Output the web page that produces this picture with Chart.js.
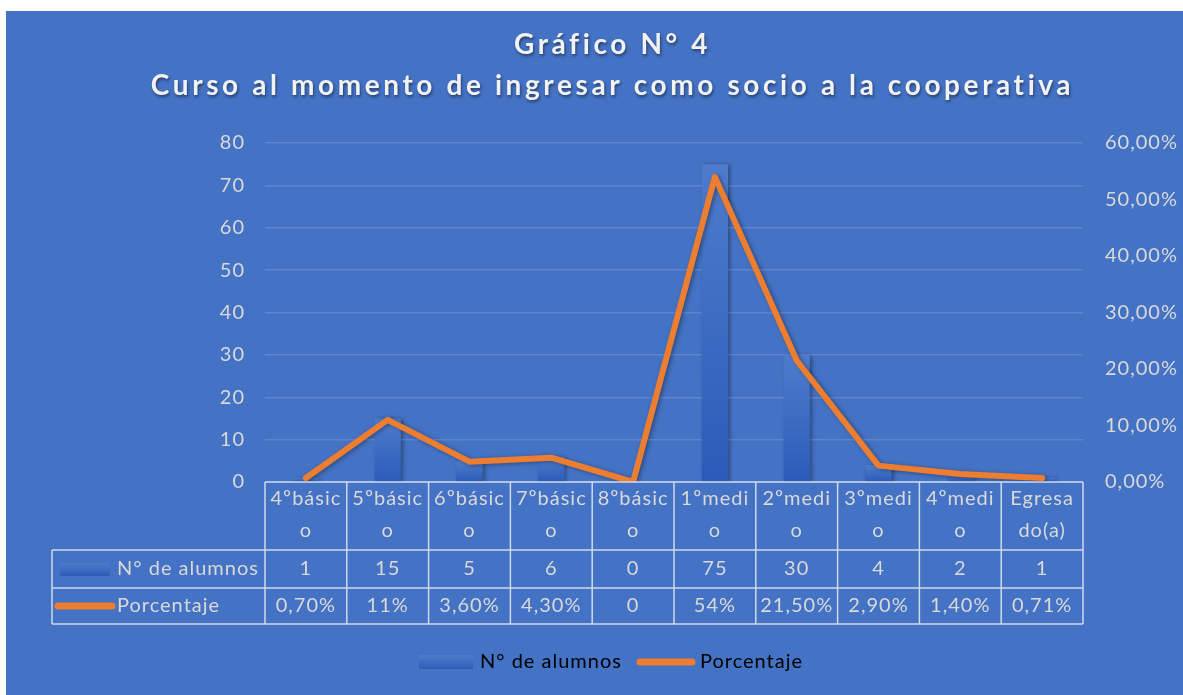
<!DOCTYPE html>
<html>
<head>
<meta charset="utf-8">
<script src="https://cdn.jsdelivr.net/npm/chart.js@4"></script>
<style>
  html, body { margin: 0; padding: 0; background: #fff; }
  #marco { position: absolute; left: 6px; top: 11px; width: 1177px; height: 684px; background: #4472C4; }
</style>
</head>
<body>
<div id="marco"><canvas id="chart"></canvas></div>
<script>
// datos
const categorias = ["4ºbásico", "5ºbásico", "6ºbásico", "7ºbásico", "8ºbásico", "1ºmedio", "2ºmedio", "3ºmedio", "4ºmedio", "Egresado(a)"];
const etiquetas = [["4ºbásic", "o"], ["5ºbásic", "o"], ["6ºbásic", "o"], ["7ºbásic", "o"], ["8ºbásic", "o"], ["1ºmedi", "o"], ["2ºmedi", "o"], ["3ºmedi", "o"], ["4ºmedi", "o"], ["Egresa", "do(a)"]];
const alumnos = [1, 15, 5, 6, 0, 75, 30, 4, 2, 1];
const porcentaje = [0.70, 11, 3.60, 4.30, 0, 54, 21.50, 2.90, 1.40, 0.71];
const porcentajeTexto = ["0,70%", "11%", "3,60%", "4,30%", "0", "54%", "21,50%", "2,90%", "1,40%", "0,71%"];

const TEXTO = "#D9D9D9";
const NARANJA = "#ED7D31";

Chart.defaults.font.family = "Lato";

// swatches de la leyenda
function swatchBarra(w, h) {
    const c = document.createElement("canvas");
    c.width = w; c.height = h;
    const g = c.getContext("2d");
    const grad = g.createLinearGradient(0, 0, 0, h);
    grad.addColorStop(0, "#4E7CCB");
    grad.addColorStop(1, "#2D5DBA");
    g.fillStyle = grad;
    g.fillRect(0, 0, w, h);
    return c;
}
function swatchLinea(w, h) {
    const c = document.createElement("canvas");
    c.width = w; c.height = h;
    const g = c.getContext("2d");
    g.strokeStyle = NARANJA;
    g.lineWidth = 7;
    g.lineCap = "round";
    g.beginPath();
    g.moveTo(4, h / 2);
    g.lineTo(w - 4, h / 2);
    g.stroke();
    return c;
}

// espaciado de letras en todo el texto, más ancho en el título
const espaciado = {
    id: "espaciado",
    beforeUpdate(chart) { chart.ctx.letterSpacing = "1px"; },
    beforeDraw(chart) {
        chart.ctx.letterSpacing = "1px";
        const t = chart.titleBlock;
        if (!t || t._espaciado) return;
        const dibujar = t.draw.bind(t);
        t.draw = function (area) {
            const ctx = chart.ctx;
            ctx.save();
            ctx.letterSpacing = "3.6px";
            ctx.shadowColor = "rgba(0,0,0,0.45)";
            ctx.shadowBlur = 3;
            ctx.shadowOffsetX = 1;
            ctx.shadowOffsetY = 2;
            dibujar(area);
            ctx.restore();
        };
        t._espaciado = true;
    }
};

// sombra de barras y línea
const sombras = {
    id: "sombras",
    beforeDatasetDraw(chart) {
        const ctx = chart.ctx;
        ctx.save();
        ctx.shadowColor = "rgba(0,0,0,0.35)";
        ctx.shadowBlur = 4;
        ctx.shadowOffsetX = 2;
        ctx.shadowOffsetY = 1;
    },
    afterDatasetDraw(chart) {
        chart.ctx.restore();
    }
};

// tabla de datos bajo el eje
const tablaDatos = {
    id: "tablaDatos",
    afterDraw(chart) {
        const { ctx, chartArea: { left, right, bottom }, scales: { x } } = chart;
        const n = categorias.length;
        const fila1 = bottom + 68, fila2 = bottom + 106, fin = bottom + 142;
        const izq = 46;

        ctx.save();
        ctx.strokeStyle = "rgba(222,228,240,0.9)";
        ctx.lineWidth = 1.5;
        ctx.beginPath();
        ctx.moveTo(left, bottom); ctx.lineTo(right, bottom);
        [fila1, fila2, fin].forEach(yy => { ctx.moveTo(izq, yy); ctx.lineTo(right, yy); });
        ctx.moveTo(izq, fila1); ctx.lineTo(izq, fin);
        for (let i = 0; i <= n; i++) {
            const xx = x.getPixelForValue(i - 0.5);
            ctx.moveTo(xx, bottom); ctx.lineTo(xx, fin);
        }
        ctx.stroke();

        ctx.fillStyle = TEXTO;
        ctx.font = "20px Lato";
        ctx.letterSpacing = "1px";
        ctx.textAlign = "center";
        ctx.textBaseline = "middle";
        const c1 = (fila1 + fila2) / 2, c2 = (fila2 + fin) / 2;
        for (let i = 0; i < n; i++) {
            const xx = x.getPixelForValue(i);
            ctx.fillText(String(alumnos[i]), xx, c1);
            ctx.fillText(porcentajeTexto[i], xx, c2);
        }

        // encabezados de fila
        ctx.drawImage(swatchBarra(50, 13), izq + 8, c1 - 6);
        ctx.drawImage(swatchLinea(62, 10), izq + 2, c2 - 5);
        ctx.textAlign = "left";
        ctx.fillText("N° de alumnos", izq + 65, c1);
        ctx.fillText("Porcentaje", izq + 65, c2);
        ctx.restore();
    }
};

function degradadoBarra(c) {
    const { chart, parsed } = c;
    if (!chart.chartArea || !parsed) return "#3464BE";
    const y = chart.scales.y;
    const top = y.getPixelForValue(parsed.y), base = y.getPixelForValue(0);
    if (base - top < 2) return "#3464BE";
    const g = chart.ctx.createLinearGradient(0, top, 0, base);
    g.addColorStop(0, "#4E7CCB");
    g.addColorStop(1, "#2B5BB9");
    return g;
}

const chart = new Chart(document.getElementById("chart"), {
    type: "bar",
    data: {
        labels: etiquetas,
        datasets: [
            {
                type: "bar",
                label: "N° de alumnos",
                data: alumnos,
                backgroundColor: degradadoBarra,
                categoryPercentage: 1,
                barPercentage: 0.32,
                yAxisID: "y",
                order: 1
            },
            {
                type: "line",
                label: "Porcentaje",
                data: porcentaje,
                borderColor: NARANJA,
                backgroundColor: NARANJA,
                borderWidth: 6,
                borderCapStyle: "round",
                borderJoinStyle: "round",
                pointRadius: 0,
                tension: 0,
                yAxisID: "y1",
                order: 0
            }
        ]
    },
    options: {
        responsive: true,
        maintainAspectRatio: false,
        animation: false,
        layout: { padding: { top: 0, left: 36, right: 0, bottom: 13 } },
        plugins: {
            tooltip: { enabled: false },
            title: {
                display: true,
                text: ["Gráfico N° 4", "Curso al momento de ingresar como socio a la cooperativa"],
                color: "#F2F2F2",
                font: { size: 28, weight: "bold", lineHeight: "41px" },
                padding: { top: 13, bottom: 37 }
            },
            legend: {
                position: "bottom",
                labels: {
                    color: TEXTO,
                    font: { size: 20 },
                    usePointStyle: true,
                    pointStyleWidth: 48,
                    padding: 20,
                    generateLabels() {
                        return [
                            { text: "N° de alumnos", pointStyle: swatchBarra(54, 14), datasetIndex: 0, hidden: false, lineWidth: 0 },
                            { text: "Porcentaje", pointStyle: swatchLinea(60, 10), datasetIndex: 1, hidden: false, lineWidth: 0 }
                        ];
                    }
                }
            }
        },
        scales: {
            x: {
                grid: { display: false, drawTicks: false },
                border: { display: false },
                ticks: {
                    color: TEXTO,
                    font: { size: 20, lineHeight: "32px" },
                    padding: 1,
                    maxRotation: 0,
                    autoSkip: false
                },
                afterFit(s) { s.height = 150; }
            },
            y: {
                position: "left",
                min: 0,
                max: 80,
                ticks: { stepSize: 10, color: TEXTO, font: { size: 20 }, padding: 20 },
                grid: { color: "rgba(255,255,255,0.14)", lineWidth: 1.5, drawTicks: false },
                border: { display: false },
                afterFit(s) { s.width = 223; }
            },
            y1: {
                position: "right",
                min: 0,
                max: 60,
                ticks: {
                    stepSize: 10,
                    color: TEXTO,
                    font: { size: 20 },
                    padding: 22,
                    callback: v => v.toFixed(2).replace(".", ",") + "%"
                },
                grid: { display: false, drawTicks: false },
                border: { display: false },
                afterFit(s) { s.width = 100; }
            }
        }
    },
    plugins: [espaciado, sombras, tablaDatos]
});
chart.draw();
</script>
</body>
</html>
